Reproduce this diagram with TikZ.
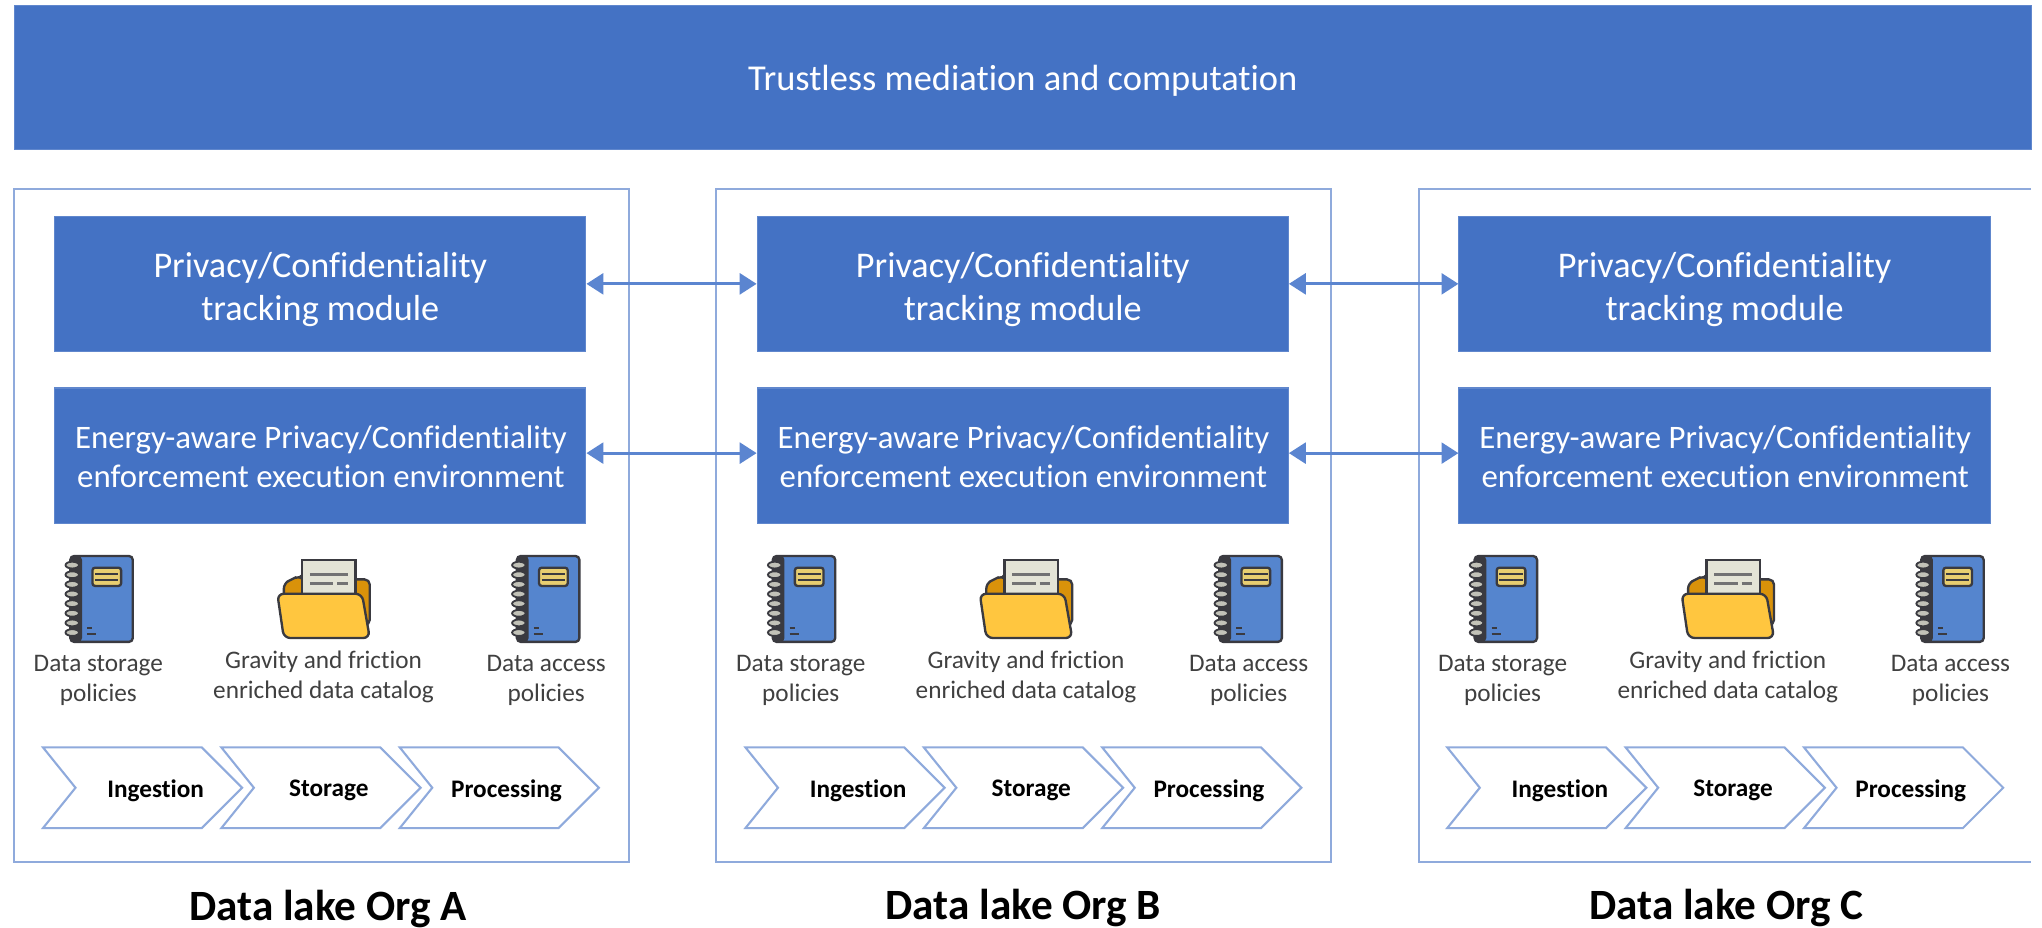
\documentclass[tikz,border=0pt]{standalone}
\usepackage{fontspec}
\setmainfont[Ligatures=NoCommon]{Carlito}
\usetikzlibrary{arrows.meta}
\definecolor{barblue}{HTML}{4472C4}
\definecolor{edgeblue}{HTML}{8FAADC}
\definecolor{arrowblue}{HTML}{5B85D0}
\definecolor{coverblue}{HTML}{5585CE}
\definecolor{darkink}{HTML}{3A3A40}
\definecolor{paperc}{HTML}{E4E4D6}
\definecolor{labelyellow}{HTML}{E8CE70}
\definecolor{folderfront}{HTML}{FFC63F}
\definecolor{folderback}{HTML}{D9920A}
\definecolor{textgrey}{HTML}{404040}
\tikzset{
  bar/.style={fill=barblue,draw=barblue!85!white,line width=0.4pt,text=white,align=center,inner sep=0pt},
  modbox/.style={bar,minimum width=204pt,minimum height=52pt},
  modtext/.style={text=white,align=center,inner sep=0pt},
  orgbox/.style={draw=edgeblue,line width=0.8pt,fill=white},
  link/.style={arrowblue,line width=1.2pt,{Triangle[length=6.5pt,width=8pt]}-{Triangle[length=6.5pt,width=8pt]}},
  chev/.style={draw=edgeblue,line width=0.8pt,fill=white,line join=miter},
  chevtext/.style={font=\fontsize{9.7}{11}\selectfont\bfseries,text=black,inner sep=0pt},
  small/.style={font=\fontsize{9.7}{11.7}\selectfont,text=textgrey,align=center,inner sep=0pt},
  title/.style={font=\fontsize{16.6}{19}\selectfont\bfseries,text=black,inner sep=0pt},
}
\newcommand{\notebook}[2]{% left x, top y (units)
  \begin{scope}[shift={(#1,#2)}]
    \fill[coverblue,draw=darkink,line width=0.9pt,rounded corners=1.5pt] (4,0) rectangle (52,66);
    \fill[darkink,rounded corners=1.5pt] (4,0) rectangle (13,66);
    \foreach \ry in {7,14.4,21.8,29.2,36.6,44,51.4,58.8}{
      \draw[darkink,fill=paperc!80!darkink,line width=0.7pt] (5.5,\ry) ellipse (5.2 and 2.6);
    }
    \fill[labelyellow,draw=darkink,line width=0.9pt,rounded corners=1pt] (21,9) rectangle (43,23);
    \draw[darkink,line width=0.8pt] (23,14) -- (41,14) (23,18.5) -- (41,18.5);
    \draw[darkink,line width=0.8pt] (17,55) -- (21,55) (17,60) -- (24,60);
  \end{scope}}
\newcommand{\folderico}[2]{% left x, top y (units)
  \begin{scope}[shift={(#1,#2)}]
    \fill[folderback,draw=darkink,line width=0.9pt,rounded corners=2pt] (5,50) -- (5,18) -- (11,15) -- (17,12) -- (20,15) -- (71,15) -- (71,50) -- cycle;
    \fill[paperc,draw=darkink,line width=0.9pt] (19,0) rectangle (60,30);
    \draw[gray!80!darkink,line width=1.3pt] (25,11) -- (54,11) (25,18) -- (43,18) (46,18) -- (54,18);
    \fill[folderfront,draw=darkink,line width=0.9pt,rounded corners=2.5pt] (0,26) -- (65,26) -- (71,60) -- (5,60) -- cycle;
  \end{scope}}
\begin{document}
\begin{tikzpicture}[x=0.5pt,y=-0.5pt]
\useasboundingbox (0,0) rectangle (1568.3,712.7);
\node[bar,minimum width=774.5pt,minimum height=55.5pt] (top) at (785.5,59.5) {};
\node[modtext] (toptext) at (785.5,62) {\fontsize{14}{16}\selectfont Trustless mediation and computation};
% organisation frames
\draw[orgbox] (11,145) rectangle (483,662);
\draw[orgbox] (550,145) rectangle (1022,662);
\draw[orgbox] (1560,145) -- (1090,145) -- (1090,662) -- (1560,662);
\foreach \ox/\n in {0/A,539.5/B,1078.5/C}{
  \node[modbox] (track\n) at ({246+\ox},218) {};
  \node[modtext,font=\fontsize{13.9}{16.5}\selectfont] (tracktext\n) at ({246+\ox},222) {Privacy/Confidentiality\\tracking module};
  \node[modbox] (energy\n) at ({246+\ox},350) {};
  \node[modtext,font=\fontsize{12.6}{15}\selectfont] (energytext\n) at ({246.5+\ox},351) {Energy-aware Privacy/Confidentiality\\enforcement execution environment};
  \notebook{{50+\ox}}{427}
  \folderico{{213+\ox}}{430}
  \notebook{{393+\ox}}{427}
  \node[small] (storepol\n) at ({75.5+\ox},522.5) {Data storage\\policies};
  \node[small] (catalog\n) at ({248.5+\ox},520) {Gravity and friction\\enriched data catalog};
  \node[small] (accesspol\n) at ({419.5+\ox},522.5) {Data access\\policies};
  \foreach \cx/\lab/\lx in {33/Ingestion/119.5,170/Storage/252.5,307/Processing/389}{
    \draw[chev] ({\cx+\ox},574) -- ({\cx+\ox+122},574) -- ({\cx+\ox+153},605) -- ({\cx+\ox+122},636) -- ({\cx+\ox},636) -- ({\cx+\ox+25},605) -- cycle;
    \node[chevtext] (lab\lab\n) at ({\lx+\ox},607) {\lab};
  }
}
\node[title] (titleA) at (252,698) {Data lake Org A};
\node[title] (titleB) at (786,697) {Data lake Org B};
\node[title] (titleC) at (1326,697) {Data lake Org C};
\draw[link] (trackA.east) -- (trackB.west);
\draw[link] (trackB.east) -- (trackC.west);
\draw[link] ([yshift=1pt]energyA.east) -- ([yshift=1pt]energyB.west);
\draw[link] ([yshift=1pt]energyB.east) -- ([yshift=1pt]energyC.west);
\end{tikzpicture}
\end{document}
